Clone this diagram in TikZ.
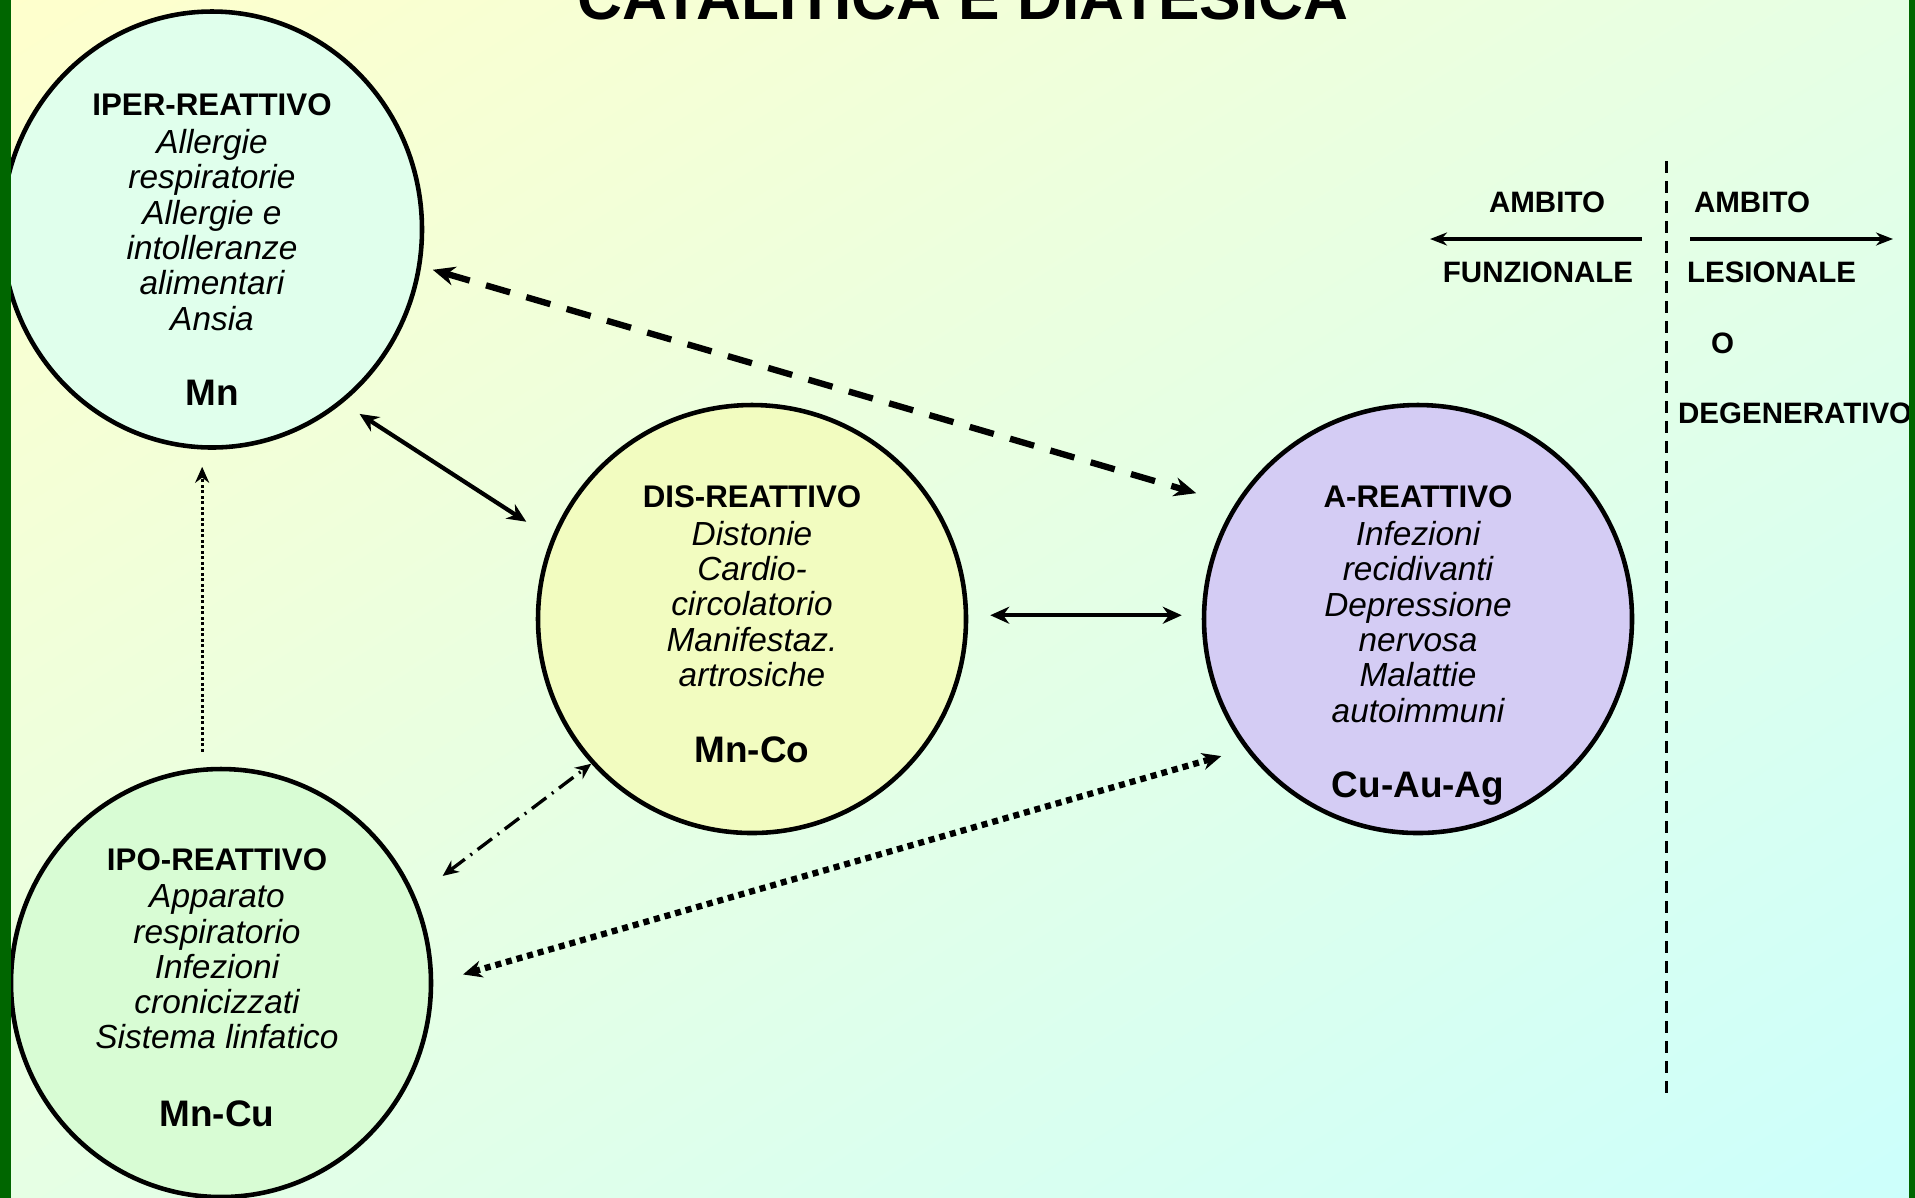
\documentclass[tikz,border=0pt]{standalone}
\usepackage{fontspec}
\setmainfont{Liberation Sans}
\usetikzlibrary{shapes.geometric,arrows.meta,shadings}

\definecolor{verde}{RGB}{0,102,0}
\definecolor{fondoA}{RGB}{255,255,204}
\definecolor{fondoB}{RGB}{230,255,228}
\definecolor{fondoC}{RGB}{204,255,252}
\definecolor{iperc}{RGB}{224,255,236}
\definecolor{disc}{RGB}{242,252,192}
\definecolor{areac}{RGB}{212,204,244}
\definecolor{ipoc}{RGB}{216,252,212}

\newcommand\titfont{\fontsize{17.7}{20}\selectfont\bfseries}
\newcommand\hdfont{\fontsize{8.9}{10}\selectfont\bfseries}
\newcommand\itfont{\fontsize{9.5}{10.05}\selectfont\itshape}
\newcommand\elfont{\fontsize{10.5}{12}\selectfont\bfseries}
\newcommand\lgfont{\fontsize{8.4}{10}\selectfont\bfseries}

\begin{document}
\begin{tikzpicture}[y=-1cm,line width=1.2pt,>={Stealth[length=0.22cm,width=0.19cm]},
  bolla/.style={ellipse,draw,line width=1.3pt,inner sep=0pt},
  titolo/.style={font=\hdfont,inner sep=0pt},
  voci/.style={font=\itfont,align=center,inner sep=0pt},
  elem/.style={font=\elfont,inner sep=0pt},
  legenda/.style={font=\lgfont,inner sep=0pt}]

\useasboundingbox (0,0) rectangle (19.15,11.97);
\clip (-0.05,-0.05) rectangle (19.2,12.02);
\shade[upper left=fondoA,upper right=fondoB,lower left=fondoB,lower right=fondoC] (-0.05,-0.05) rectangle (19.2,12.02);

\node[font=\titfont,anchor=base,inner sep=0pt] (tit) at (9.63,0.195) {CATALITICA E DIATESICA};

% cerchi
\node[bolla,fill=iperc,minimum width=4.2cm,minimum height=4.36cm] (iper) at (2.12,2.295) {};
\node[bolla,fill=disc,minimum width=4.28cm,minimum height=4.28cm] (dis) at (7.52,6.19) {};
\node[bolla,fill=areac,minimum width=4.28cm,minimum height=4.28cm] (area) at (14.18,6.19) {};
\node[bolla,fill=ipoc,minimum width=4.2cm,minimum height=4.28cm] (ipo) at (2.21,9.83) {};

\node[titolo] (iperT) at (2.12,1.05) {IPER-REATTIVO};
\node[voci] (iperV) at (2.12,2.30) {Allergie\\respiratorie\\Allergie e\\intolleranze\\alimentari\\Ansia};
\node[elem] (iperE) at (2.12,3.93) {Mn};

\node[titolo] (disT) at (7.52,4.97) {DIS-REATTIVO};
\node[voci] (disV) at (7.52,6.04) {Distonie\\Cardio-\\circolatorio\\Manifestaz.\\artrosiche};
\node[elem] (disE) at (7.52,7.50) {Mn-Co};

\node[titolo] (areaT) at (14.18,4.97) {A-REATTIVO};
\node[voci] (areaV) at (14.18,6.22) {Infezioni\\recidivanti\\Depressione\\nervosa\\Malattie\\autoimmuni};
\node[elem] (areaE) at (14.18,7.88) {Cu-Au-Ag};

\node[titolo] (ipoT) at (2.17,8.60) {IPO-REATTIVO};
\node[voci] (ipoV) at (2.17,9.67) {Apparato\\respiratorio\\Infezioni\\cronicizzati\\Sistema linfatico};
\node[elem] (ipoE) at (2.17,11.14) {Mn-Cu};

% frecce
\draw[<->,line width=1.8pt,dash pattern=on 0.25cm off 0.17cm,shorten <=0.12cm,shorten >=0.4cm] (iper.-10) -- (area.148);
\draw[<->,shorten <=0.2cm,shorten >=0.3cm,>={Stealth[length=0.19cm,width=0.17cm]}] (iper.-53) -- (dis.158);
\draw[<->,shorten <=0.22cm,shorten >=0.2cm,>={Stealth[length=0.19cm,width=0.17cm]}] (dis.1) -- (area.179);
\draw[->,line width=0.8pt,dash pattern=on 0.03cm off 0.025cm,shorten <=0.16cm,shorten >=0.17cm,>={Stealth[length=0.16cm,width=0.14cm]}] (ipo.95) -- (ipo.95 |- iper.south);
\draw[<->,line width=0.95pt,dash pattern=on 0.18cm off 0.07cm on 0.02cm off 0.07cm,shorten <=0.34cm,>={Stealth[length=0.16cm,width=0.14cm]}] (ipo.24) -- (dis.222);
\draw[<->,line width=1.8pt,dash pattern=on 0.06cm off 0.05cm,shorten <=0.31cm,shorten >=0.25cm,>={Stealth[length=0.19cm,width=0.17cm]}] (ipo.east) -- (area.217);

% legenda
\draw[line width=0.85pt,dash pattern=on 0.12cm off 0.08cm] (16.66,1.61) -- (16.66,10.96);
\coordinate (fsx0) at (16.42,2.39);
\coordinate (fsx1) at (14.30,2.39);
\coordinate (fdx0) at (16.90,2.39);
\coordinate (fdx1) at (18.93,2.39);
\draw[->,line width=0.9pt,>={Stealth[length=0.17cm,width=0.13cm]}] (fsx0) -- (fsx1);
\draw[->,line width=0.9pt,>={Stealth[length=0.17cm,width=0.13cm]}] (fdx0) -- (fdx1);

\node[legenda] (amb1) at (15.47,2.025) {AMBITO};
\node[legenda] (funz) at (15.38,2.725) {FUNZIONALE};
\node[legenda] (amb2) at (17.52,2.025) {AMBITO};
\node[legenda] (les) at (17.715,2.725) {LESIONALE};
\node[legenda] (o) at (17.225,3.43) {O};
\node[legenda,anchor=west] (deg) at (16.76,4.13) {DEGENERATIVO};

\fill[verde] (-0.05,-0.05) rectangle (0.11,12.02);
\fill[verde] (19.09,-0.05) rectangle (19.2,12.02);

\end{tikzpicture}
\end{document}
